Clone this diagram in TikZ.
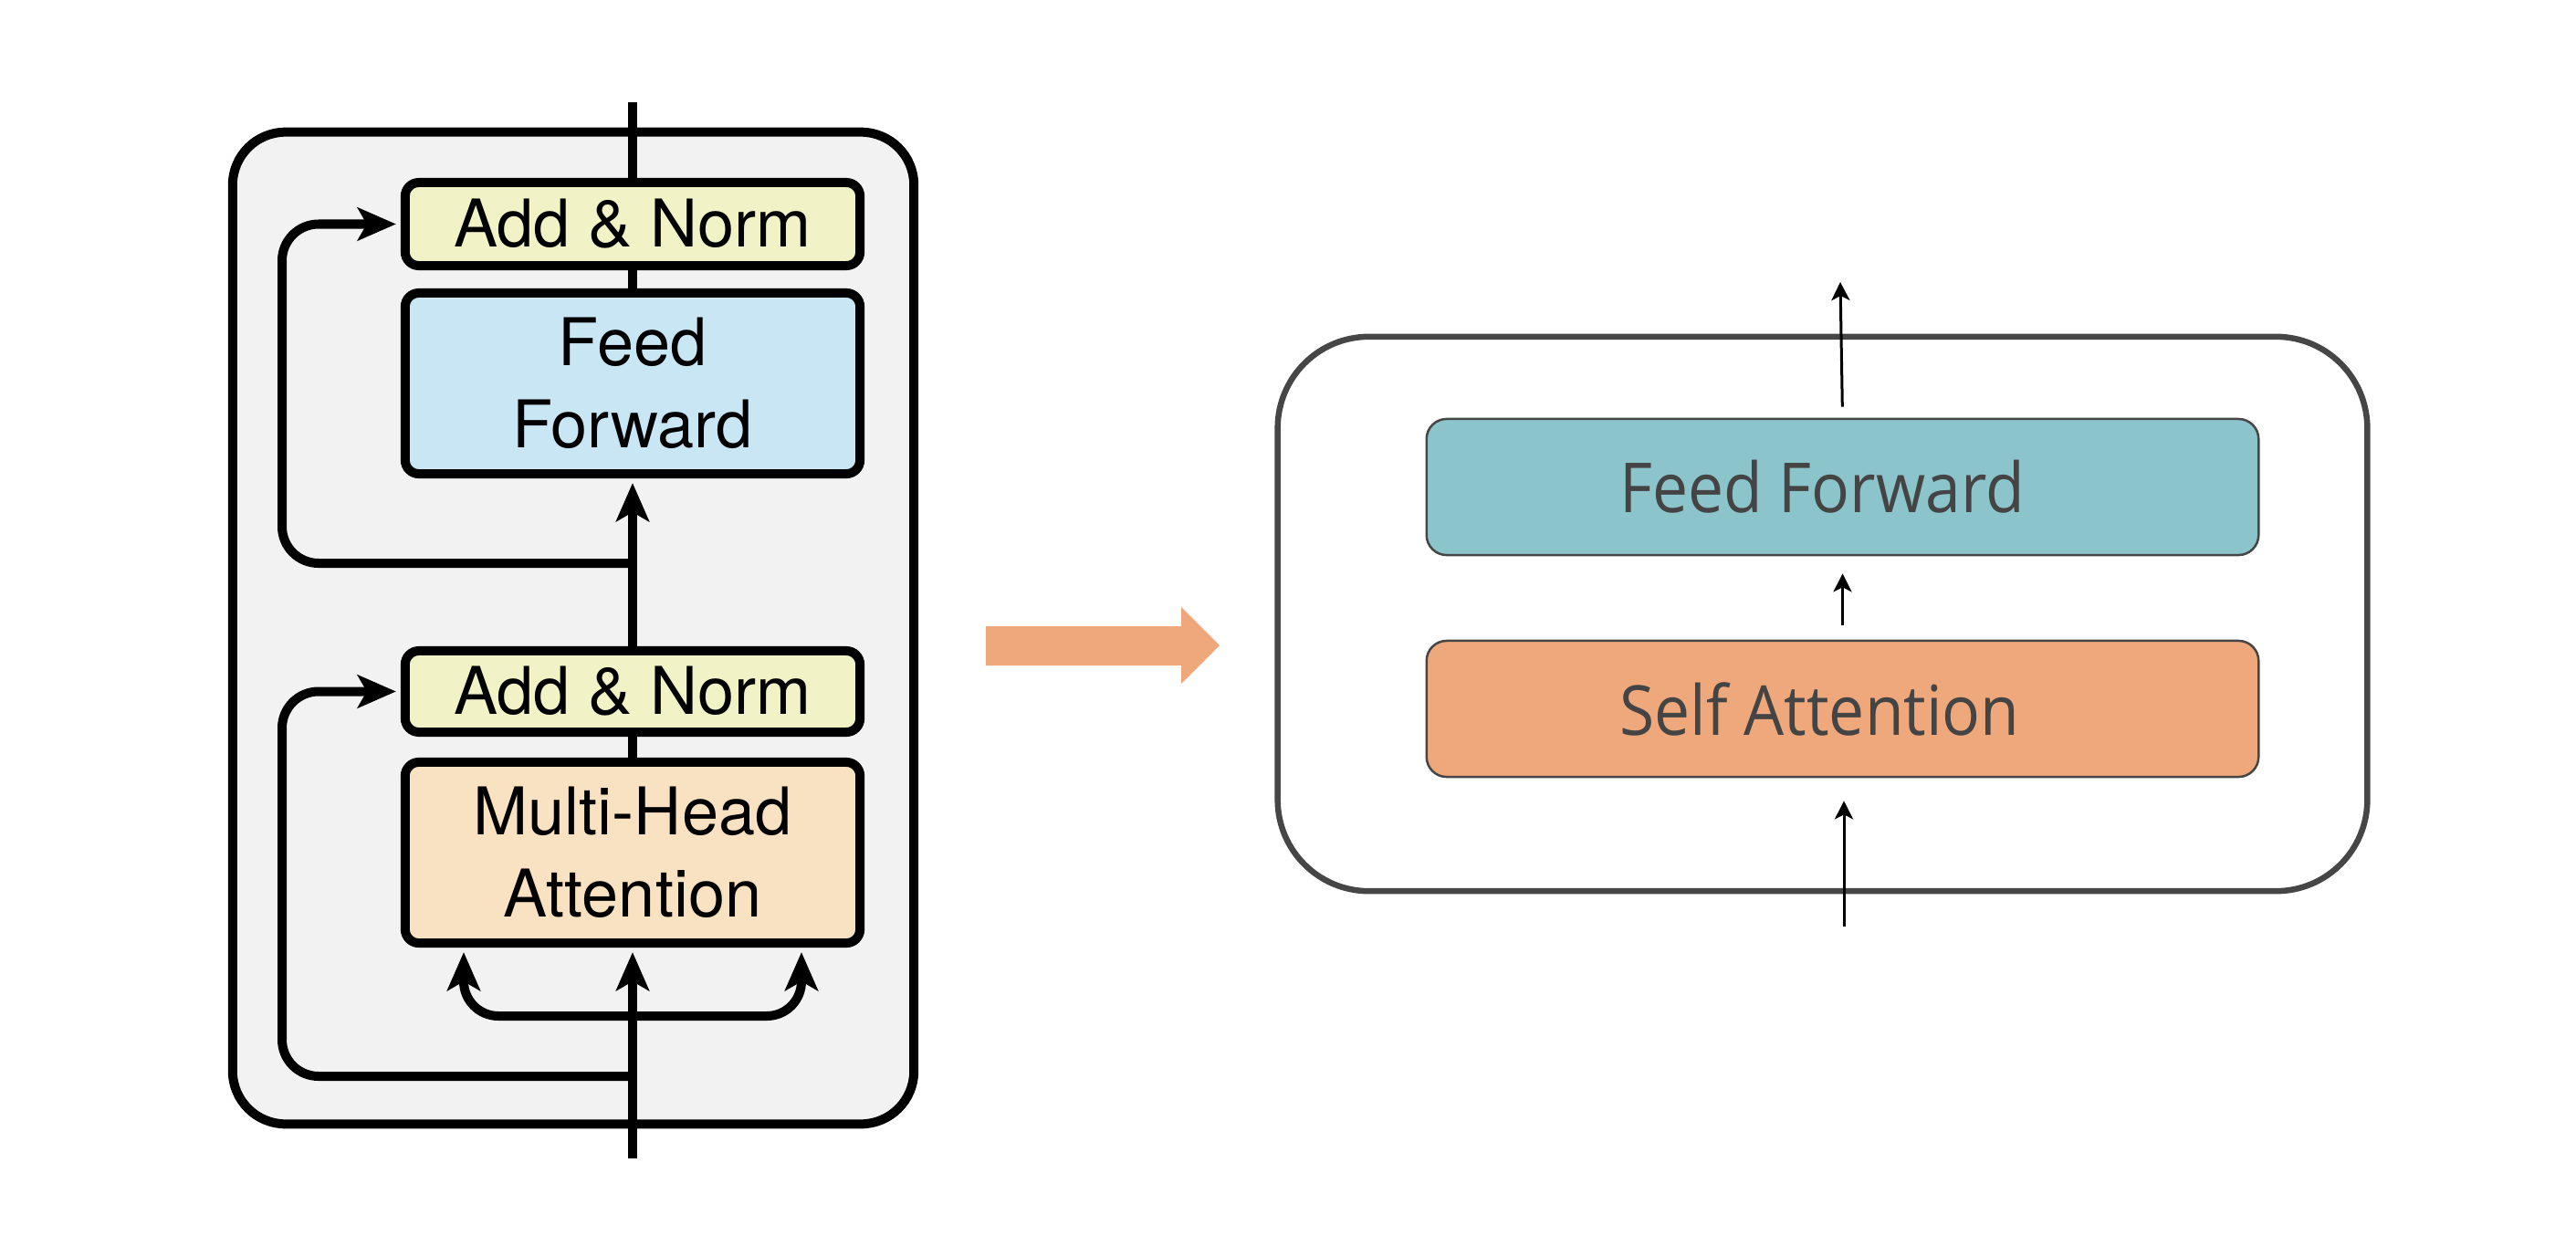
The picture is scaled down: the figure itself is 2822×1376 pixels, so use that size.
\documentclass[tikz,border=0pt]{standalone}
\usepackage{fontspec}
\newfontfamily\helv{TeX Gyre Heros}
\newfontfamily\osans[FakeStretch=0.92]{Open Sans}
\usetikzlibrary{arrows.meta,calc}
\definecolor{leftbg}{RGB}{242,242,242}
\definecolor{addnorm}{RGB}{241,243,199}
\definecolor{ffblue}{RGB}{201,230,244}
\definecolor{mhaor}{RGB}{249,226,193}
\definecolor{teal}{RGB}{140,196,203}
\definecolor{salmon}{RGB}{238,168,123}
\definecolor{rgray}{RGB}{70,70,70}
\definecolor{rtext}{RGB}{68,68,68}
\begin{document}
\begin{tikzpicture}[x=0.01cm,y=-0.01cm,
  blk/.style={draw=black, line width=0.1cm, rounded corners=0.15cm, minimum width=4.98cm,
    font={\helv\fontsize{20.5pt}{25.5pt}\selectfont}, align=center, inner sep=0pt},
  con/.style={line width=0.1cm},
  arr/.style={con, -{Stealth[length=0.42cm,width=0.36cm,inset=0.1cm]}, shorten >=0.05cm},
  rbox/.style={draw=rgray, line width=0.025cm, rounded corners=0.22cm, minimum width=9.11cm,
    minimum height=1.49cm, font={\osans\fontsize{21.5pt}{26pt}\selectfont}, text=rtext, inner sep=0pt},
  rarr/.style={line width=0.03cm, -{Stealth[length=0.2cm,width=0.2cm,inset=0.05cm]}}]
\useasboundingbox (0,0) rectangle (2822,1376);

% ---------- left panel ----------
\node[draw=black, fill=leftbg, line width=0.1cm, rounded corners=0.58cm,
      minimum width=7.46cm, minimum height=10.86cm] (enc) at (628,688) {};

\node[blk, fill=addnorm, minimum height=0.91cm] (an2) at (693,245.5) {Add \& Norm};
\node[blk, fill=ffblue, minimum height=1.98cm] (ff) at (693,420) {Feed\\Forward};
\node[blk, fill=addnorm, minimum height=0.89cm] (an1) at (693,757.5) {Add \& Norm};
\node[blk, fill=mhaor, minimum height=1.98cm] (mha) at (693,934) {Multi-Head\\Attention};

\coordinate (inb) at (693,1269);
\coordinate (outt) at (693,112);
\coordinate (r1) at (693,1179);
\coordinate (r1l) at (309,1179);
\coordinate (r2) at (693,617);
\coordinate (r2l) at (309,617);
\coordinate (b) at (693,1113);
\coordinate (bl) at (508,1113);
\coordinate (br) at (878,1113);

\draw[arr] (inb) -- (mha.south);
\draw[con] (mha.north) -- (an1.south);
\draw[arr] (an1.north) -- (ff.south);
\draw[con] (ff.north) -- (an2.south);
\draw[con] (an2.north) -- (outt);

\draw[arr, rounded corners=0.4cm] (r1) -- (r1l) |- (an1.west);
\draw[arr, rounded corners=0.4cm] (r2) -- (r2l) |- (an2.west);
\draw[arr, rounded corners=0.38cm] (b) -- (bl) -- (bl |- mha.south);
\draw[arr, rounded corners=0.38cm] (b) -- (br) -- (br |- mha.south);

% ---------- orange arrow ----------
\fill[salmon] (1080,686) -- (1294,686) -- (1294,665) -- (1336,707) -- (1294,749)
  -- (1294,729) -- (1080,729) -- cycle;

% ---------- right panel ----------
\node[draw=rgray, line width=0.065cm, rounded corners=1cm,
      minimum width=11.93cm, minimum height=6.07cm] (layer) at (1996.5,672.5) {};
\node[rbox, fill=teal] (ffr) at (2018.5,533.5) {Feed Forward\kern0.45cm\relax};
\node[rbox, fill=salmon] (sar) at (2018.5,776.5) {\raisebox{-0.08cm}{Self Attention}\kern0.5cm\relax};

\coordinate (rin) at (2020,1015);
\coordinate (rout) at (2016,309);
\draw[rarr, shorten >=0.25cm] (rin) -- (rin |- sar.south);
\draw[rarr, shorten <=0.16cm, shorten >=0.19cm] (sar.north) -- (ffr.south);
\draw[rarr, shorten <=0.12cm] (ffr.north) -- (rout);
\end{tikzpicture}
\end{document}
